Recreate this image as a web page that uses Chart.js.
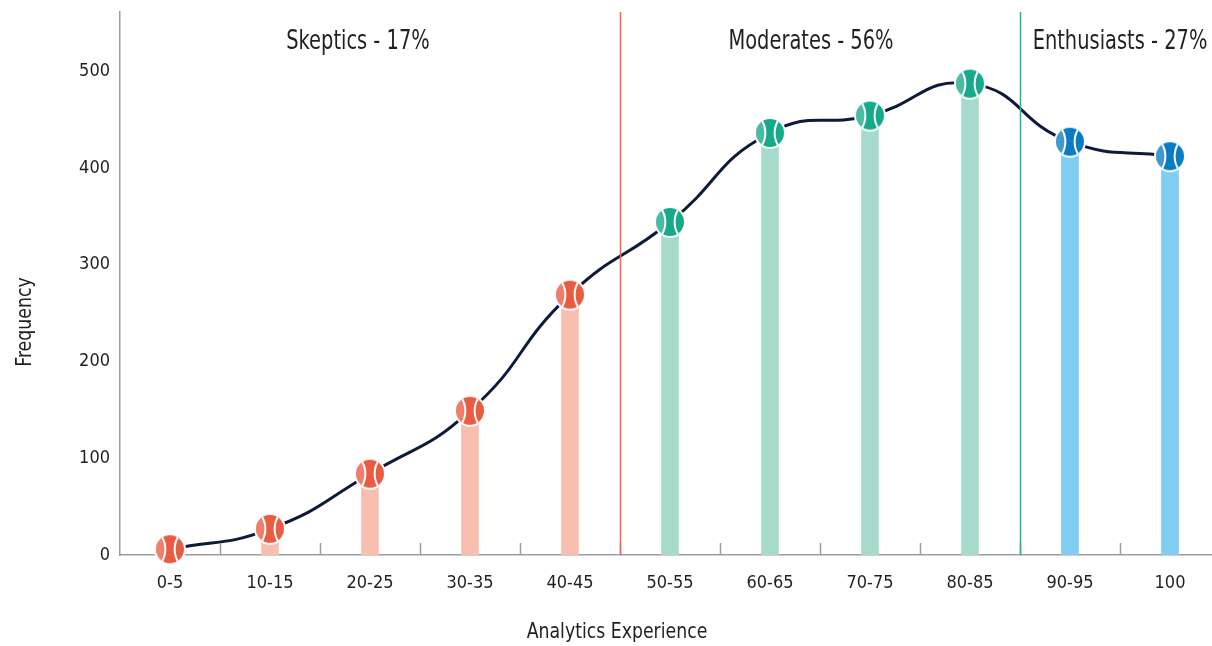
<!DOCTYPE html>
<html>
<head>
<meta charset="utf-8">
<script src="https://cdn.jsdelivr.net/npm/chart.js@4/dist/chart.umd.min.js"></script>
<style>
  html, body { margin: 0; padding: 0; background: #fff; overflow: hidden; }
  #wrap { width: 1220px; height: 646px; }
</style>
</head>
<body>
<div id="wrap"><canvas id="c" width="1220" height="646"></canvas></div>
<script>
// Experience buckets and how many respondents fall in each
const categories = ['0-5', '10-15', '20-25', '30-35', '40-45', '50-55', '60-65', '70-75', '80-85', '90-95', '100'];
const frequency = [6, 27, 84, 149, 269, 344, 436, 454, 487, 427, 412];
// Segment each bucket belongs to (0 = skeptics, 1 = moderates, 2 = enthusiasts)
const segmentOf = [0, 0, 0, 0, 0, 1, 1, 1, 1, 2, 2];
const segmentNames = ['Skeptics - 17%', 'Moderates - 56%', 'Enthusiasts - 27%'];
const yTicks = [0, 100, 200, 300, 400, 500];

const FONT = "'Liberation Sans Narrow', 'DejaVu Sans Condensed', 'Roboto', sans-serif";
const TEXT = '#231f20';
const AXIS = '#9d9d9d';
const markerColors = ['#e85c43', '#16a98a', '#0b7cc1'];
const barColors = ['#f8bfb1', '#a6dacb', '#7fcdf1'];
const dividerColors = ['#f0674c', '#22b48f'];

// Tennis-ball marker drawn once per segment colour
function makeBall(color) {
  const r = 14, b = 2;
  const s = 2 * (r + b) + 2;
  const cv = document.createElement('canvas');
  cv.width = s; cv.height = s;
  const g = cv.getContext('2d');
  const c = s / 2;
  g.beginPath(); g.arc(c, c, r + b, 0, Math.PI * 2); g.fillStyle = '#ffffff'; g.fill();
  g.beginPath(); g.arc(c, c, r, 0, Math.PI * 2); g.fillStyle = color; g.fill();
  g.save();
  g.beginPath(); g.arc(c, c, r, 0, Math.PI * 2); g.clip();
  const d = 2.0 * r, R = 1.67 * r;
  // lighter lens on the left side
  g.beginPath(); g.arc(c - d, c, R, 0, Math.PI * 2);
  g.fillStyle = 'rgba(255,255,255,0.22)'; g.fill();
  g.strokeStyle = '#ffffff'; g.lineWidth = 2;
  g.beginPath(); g.arc(c - d, c, R, 0, Math.PI * 2); g.stroke();
  g.beginPath(); g.arc(c + d, c, R, 0, Math.PI * 2); g.stroke();
  g.restore();
  return cv;
}
const balls = markerColors.map(makeBall);

// Condensed text helper: draws with a horizontal squeeze
function squeezedText(ctx, text, x, y, size, squeeze) {
  ctx.save();
  ctx.translate(x, y);
  ctx.scale(squeeze, 1);
  ctx.font = size + 'px ' + FONT;
  ctx.fillText(text, 0, 0);
  ctx.restore();
}

// Dividers, segment headings, axis ticks and axis titles
const decorations = {
  id: 'decorations',
  afterDatasetsDraw(chart) {
    const { ctx, chartArea: a, scales: { x } } = chart;
    const half = (x.getPixelForValue(1) - x.getPixelForValue(0)) / 2;
    ctx.save();
    // small tick marks between buckets, pointing up from the axis
    ctx.strokeStyle = AXIS; ctx.lineWidth = 1.5;
    for (let i = 0; i < categories.length - 1; i++) {
      const px = Math.round(x.getPixelForValue(i) + half) + 0.5;
      ctx.beginPath(); ctx.moveTo(px, a.bottom - 1); ctx.lineTo(px, a.bottom - 12); ctx.stroke();
    }
    ctx.fillStyle = TEXT;
    ctx.textAlign = 'center'; ctx.textBaseline = 'alphabetic';
    // segment boundaries and headings
    const nudge = [-12, -9, 0];
    segmentNames.forEach((name, s) => {
      const idx = segmentOf.map((v, i) => v === s ? i : -1).filter(i => i >= 0);
      const first = idx[0], last = idx[idx.length - 1];
      if (s > 0) {
        const px = Math.round(x.getPixelForValue(first) - half) + 0.5;
        ctx.strokeStyle = dividerColors[s - 1]; ctx.lineWidth = 1.5;
        ctx.beginPath(); ctx.moveTo(px, a.top); ctx.lineTo(px, a.bottom); ctx.stroke();
      }
      const cx = (x.getPixelForValue(first) + x.getPixelForValue(last)) / 2 + nudge[s];
      squeezedText(ctx, name, cx, 49, 27, 0.8);
    });
    // axis titles
    squeezedText(ctx, 'Analytics Experience', 617, 638, 22, 0.875);
    ctx.save();
    ctx.translate(31, 322); ctx.rotate(-Math.PI / 2);
    squeezedText(ctx, 'Frequency', 0, 0, 22, 0.875);
    ctx.restore();
    ctx.restore();
  }
};

new Chart(document.getElementById('c'), {
  data: {
    labels: categories,
    datasets: [
      {
        type: 'line',
        data: frequency,
        borderColor: '#0d1a3a',
        borderWidth: 3,
        tension: 0.5,
        pointStyle: segmentOf.map(s => balls[s]),
        pointRadius: 15,
        pointHoverRadius: 15,
        clip: false,
        order: 0
      },
      {
        type: 'bar',
        data: frequency,
        backgroundColor: segmentOf.map(s => barColors[s]),
        barThickness: 17,
        order: 1
      }
    ]
  },
  options: {
    responsive: false,
    animation: false,
    devicePixelRatio: 1,
    layout: { autoPadding: false, padding: { top: 12, left: 0, right: 0, bottom: 0 } },
    plugins: { legend: { display: false }, tooltip: { enabled: false } },
    scales: {
      x: {
        type: 'category',
        offset: true,
        grid: { display: false, drawTicks: false },
        border: { display: true, color: AXIS, width: 1.5 },
        ticks: { color: TEXT, font: { family: FONT, size: 18 }, padding: 18, maxRotation: 0, autoSkip: false },
        afterFit(s) { s.height = 91; s.paddingLeft = 0; s.paddingRight = 0; }
      },
      y: {
        min: 0,
        max: 561,
        afterBuildTicks(s) { s.ticks = yTicks.map(v => ({ value: v })); },
        grid: { display: false, drawTicks: false },
        border: { display: true, color: AXIS, width: 1.5 },
        ticks: { color: TEXT, font: { family: FONT, size: 18 }, padding: 10 },
        afterFit(s) { s.width = 120; s.paddingTop = 0; s.paddingBottom = 0; }
      }
    }
  },
  plugins: [decorations]
});
</script>
</body>
</html>
